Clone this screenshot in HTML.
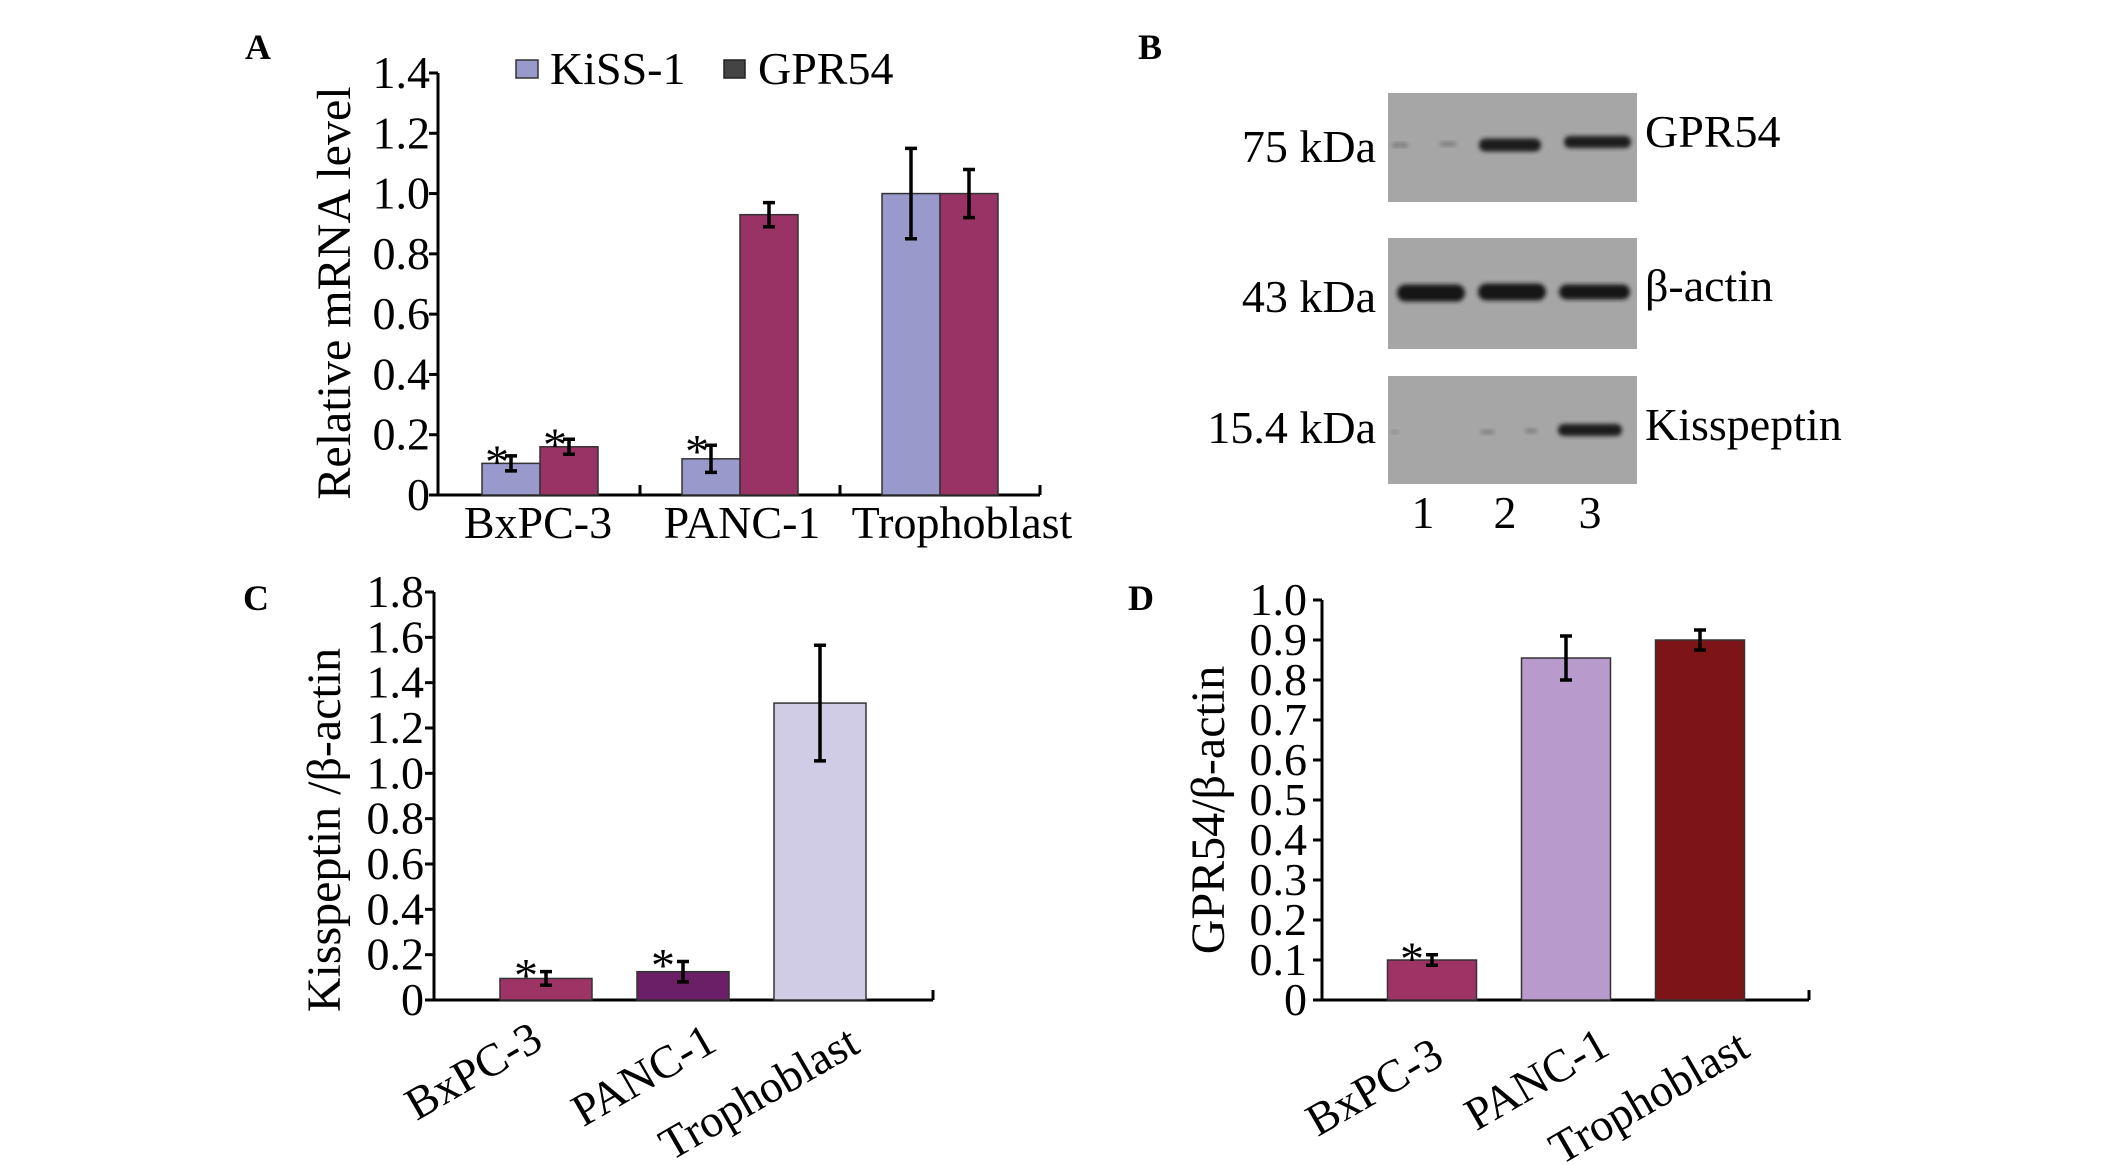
<!DOCTYPE html>
<html><head><meta charset="utf-8"><style>
html,body{margin:0;padding:0;background:#fff}
svg{display:block}
text{font-family:"Liberation Serif",serif;fill:#000}
</style></head><body>
<svg id="fig" width="2126" height="1165" viewBox="0 0 2126 1165" xmlns="http://www.w3.org/2000/svg">
<g id="pA"></g>
<g id="pB"></g>
<g id="pC"></g>
<g id="pD"></g>
</svg>
<script>
// Panel A data
const aCategories = ["BxPC-3","PANC-1","Trophoblast"];
const aKiss = [0.105, 0.12, 1.0];
const aKissErr = [0.025, 0.045, 0.15];
const aGpr = [0.16, 0.93, 1.0];
const aGprErr = [0.025, 0.04, 0.08];
const aTicks = ["0","0.2","0.4","0.6","0.8","1.0","1.2","1.4"];
const aTickVals = [0,0.2,0.4,0.6,0.8,1.0,1.2,1.4];
const aSig = [[true,true],[true,false],[false,false]];
// Panel C data
const cCategories = ["BxPC-3","PANC-1","Trophoblast"];
const cValues = [0.095, 0.125, 1.31];
const cErr = [0.03, 0.045, 0.255];
const cTicks = ["0","0.2","0.4","0.6","0.8","1.0","1.2","1.4","1.6","1.8"];
const cTickVals = [0,0.2,0.4,0.6,0.8,1.0,1.2,1.4,1.6,1.8];
const cSig = [true,true,false];
// Panel D data
const dCategories = ["BxPC-3","PANC-1","Trophoblast"];
const dValues = [0.1, 0.855, 0.9];
const dErr = [0.013, 0.055, 0.025];
const dTicks = ["0","0.1","0.2","0.3","0.4","0.5","0.6","0.7","0.8","0.9","1.0"];
const dTickVals = [0,0.1,0.2,0.3,0.4,0.5,0.6,0.7,0.8,0.9,1.0];
const dSig = [true,false,false];

const NS="http://www.w3.org/2000/svg";
function mk(parent,tag,attrs){const e=document.createElementNS(NS,tag);for(const k in attrs)e.setAttribute(k,attrs[k]);parent.appendChild(e);return e;}
function txt(parent,x,y,s,size,anchor,extra){const t=mk(parent,"text",Object.assign({x:x,y:y,"font-size":size,"text-anchor":anchor||"start"},extra||{}));t.textContent=s;return t;}
function errbar(g,x,y1,y2){
  const l=mk(g,"path",{d:`M${x} ${y1}V${y2}M${x-6} ${y1}H${x+6}M${x-6} ${y2}H${x+6}`,stroke:"#000","stroke-width":3.5,fill:"none"});
  
  
}
function yaxis(g,x,yScale,vals,labels,size,labelRight){
  const ax=mk(g,"line",{x1:x,y1:yScale(vals[vals.length-1]),x2:x,y2:yScale(0),stroke:"#000","stroke-width":3});
  
  
  vals.forEach((v,i)=>{
    mk(g,"line",{x1:x-9,y1:yScale(v),x2:x,y2:yScale(v),stroke:"#000","stroke-width":3});
    const t=txt(g,labelRight,yScale(v)+15,labels[i],size,"end");
    
    
  });
}

// ---------- Panel A ----------
(function(){
  const g=document.getElementById("pA");
  const y0=495, y1=73, axX=438;
  const y=v=>y0-(v/1.4)*(y0-y1);
  const gx=i=>440+i*200;
  const bw=58;
  const L=txt(g,245,59,"A",36,"start",{"font-weight":"bold"});
  
  
  yaxis(g,axX,y,aTickVals,aTicks,46,430);
  const xa=mk(g,"line",{x1:axX,y1:y0,x2:1040,y2:y0,stroke:"#000","stroke-width":3});
  
  
  [1,2,3].forEach(i=>mk(g,"line",{x1:gx(i),y1:y0,x2:gx(i),y2:y0-10,stroke:"#000","stroke-width":3}));
  aCategories.forEach((c,i)=>{
    const cx=gx(i)+100;
    const b1=mk(g,"rect",{x:cx-bw,y:y(aKiss[i]),width:bw,height:y0-y(aKiss[i]),fill:"#9999cc",stroke:"#333","stroke-width":1.5});
    
    
    const b2=mk(g,"rect",{x:cx,y:y(aGpr[i]),width:bw,height:y0-y(aGpr[i]),fill:"#993366",stroke:"#333","stroke-width":1.5});
    
    
    errbar(g,cx-bw/2,y(aKiss[i]+aKissErr[i]),y(aKiss[i]-aKissErr[i]));
    errbar(g,cx+bw/2,y(aGpr[i]+aGprErr[i]),y(aGpr[i]-aGprErr[i]));
    if(aSig[i][0]){const s=txt(g,cx-bw/2-14,y(aKiss[i]+aKissErr[i])+22,"*",48,"middle");}
    if(aSig[i][1]){const s=txt(g,cx+bw/2-14,y(aGpr[i]+aGprErr[i])+22,"*",48,"middle");}
  });
  [538,742,962].forEach((x,i)=>{const t=txt(g,x,538,aCategories[i],46,"middle");});
  const yt=txt(g,0,0,"Relative mRNA level",48,"middle",{transform:"translate(350,293) rotate(-90)"});
  
  
  const l1=mk(g,"rect",{x:516,y:60,width:22,height:18,fill:"#9999cc",stroke:"#333","stroke-width":1.5});
  
  
  const lt1=txt(g,550,84,"KiSS-1",46);
  
  
  const l2=mk(g,"rect",{x:724,y:60,width:21,height:18,fill:"#444",stroke:"#222","stroke-width":1.5});
  
  
  const lt2=txt(g,758,84,"GPR54",46);
  
  
})();

// ---------- Panel B ----------
(function(){
  const g=document.getElementById("pB");
  const L=txt(g,1138,59,"B",36,"start",{"font-weight":"bold"});
  
  
  const defs=mk(g,"defs",{});
  const f=mk(defs,"filter",{id:"blur",x:"-20%",y:"-50%",width:"140%",height:"200%"});
  mk(f,"feGaussianBlur",{stdDeviation:2.2});
  const blots=[[93,202,"75 kDa","GPR54",162,147],[238,349,"43 kDa","β-actin",312,301],[376,484,"15.4 kDa","Kisspeptin",443,440]];
  blots.forEach((b,i)=>{
    const r=mk(g,"rect",{x:1388,y:b[0],width:249,height:b[1]-b[0],fill:"#a6a6a6"});
    
    
    const t1=txt(g,1376,b[4],b[2],46,"end");
    
    
    const t2=txt(g,1645,b[5],b[3],46,"start");
    
    
  });
  const bands=[
    [1392,1408,145,4,"#777"],[1440,1456,144,4,"#777"],[1479,1541,145,13,"#1a1a1a"],[1564,1631,142,12,"#1a1a1a"],
    [1397,1465,293,17,"#141414"],[1478,1546,292,17,"#141414"],[1559,1630,292,15,"#181818"],
    [1391,1399,432,3,"#888"],[1481,1494,432,4,"#7a7a7a"],[1525,1537,431,4,"#7a7a7a"],[1558,1622,430,12,"#1a1a1a"]
  ];
  bands.forEach(b=>{
    const e=mk(g,"rect",{x:b[0],y:b[2]-b[3]/2,width:b[1]-b[0],height:b[3],rx:b[3]/2,fill:b[4],filter:"url(#blur)"});
    
    
  });
  [["1",1423],["2",1505],["3",1590]].forEach(l=>{const t=txt(g,l[1],528,l[0],46,"middle");});
})();

// ---------- Panel C & D ----------
function simpleBar(g,opts){
  const {y0,yTop,maxV,axX,axEnd,c0,step,bw,vals,errs,sig,colors,cats,labelEnds,ticks,tickVals,tickRight,title,titleX,titleY,label,lx,ly}=opts;
  const y=v=>y0-(v/maxV)*(y0-yTop);
  const L=txt(g,lx,ly,label,36,"start",{"font-weight":"bold"});
  
  
  yaxis(g,axX,y,tickVals,ticks,46,tickRight);
  const xa=mk(g,"line",{x1:axX,y1:y0,x2:axEnd,y2:y0,stroke:"#000","stroke-width":3});
  
  
  mk(g,"line",{x1:axEnd,y1:y0,x2:axEnd,y2:y0-10,stroke:"#000","stroke-width":3});
  vals.forEach((v,i)=>{
    const cx=c0+i*step;
    const b=mk(g,"rect",{x:cx-bw/2,y:y(v),width:bw,height:y0-y(v),fill:colors[i],stroke:"#333","stroke-width":1.5});
    
    
    errbar(g,cx,y(v+errs[i]),y(v-errs[i]));
    if(sig[i]){const s=txt(g,cx-20,y(v+errs[i])+20,"*",48,"middle");}
    const e=labelEnds[i];
    const t=txt(g,0,0,cats[i],46,"end",{transform:`translate(${e[0]},${e[1]}) rotate(-30)`});
    
    
  });
  const yt=txt(g,0,0,title,48,"middle",{transform:`translate(${titleX},${titleY}) rotate(-90)`});
  
  
}
simpleBar(document.getElementById("pC"),{y0:1000,yTop:592,maxV:1.8,axX:434,axEnd:933,c0:546,step:137,bw:92,
  vals:cValues,errs:cErr,sig:cSig,colors:["#9e3366","#6b1f66","#d0cce6"],cats:cCategories,
  labelEnds:[[545,1047],[719,1049],[862,1051]],ticks:cTicks,tickVals:cTickVals,tickRight:424,
  title:"Kisspeptin /β-actin",titleX:340,titleY:830,label:"C",lx:243,ly:610});
simpleBar(document.getElementById("pD"),{y0:1000,yTop:600,maxV:1.0,axX:1322,axEnd:1809,c0:1432,step:134,bw:89,
  vals:dValues,errs:dErr,sig:dSig,colors:["#9e3366","#b89bcc","#7d1518"],cats:dCategories,
  labelEnds:[[1446,1063],[1612,1053],[1752,1055]],ticks:dTicks,tickVals:dTickVals,tickRight:1307,
  title:"GPR54/β-actin",titleX:1224,titleY:810,label:"D",lx:1128,ly:610});
</script>
</body></html>
